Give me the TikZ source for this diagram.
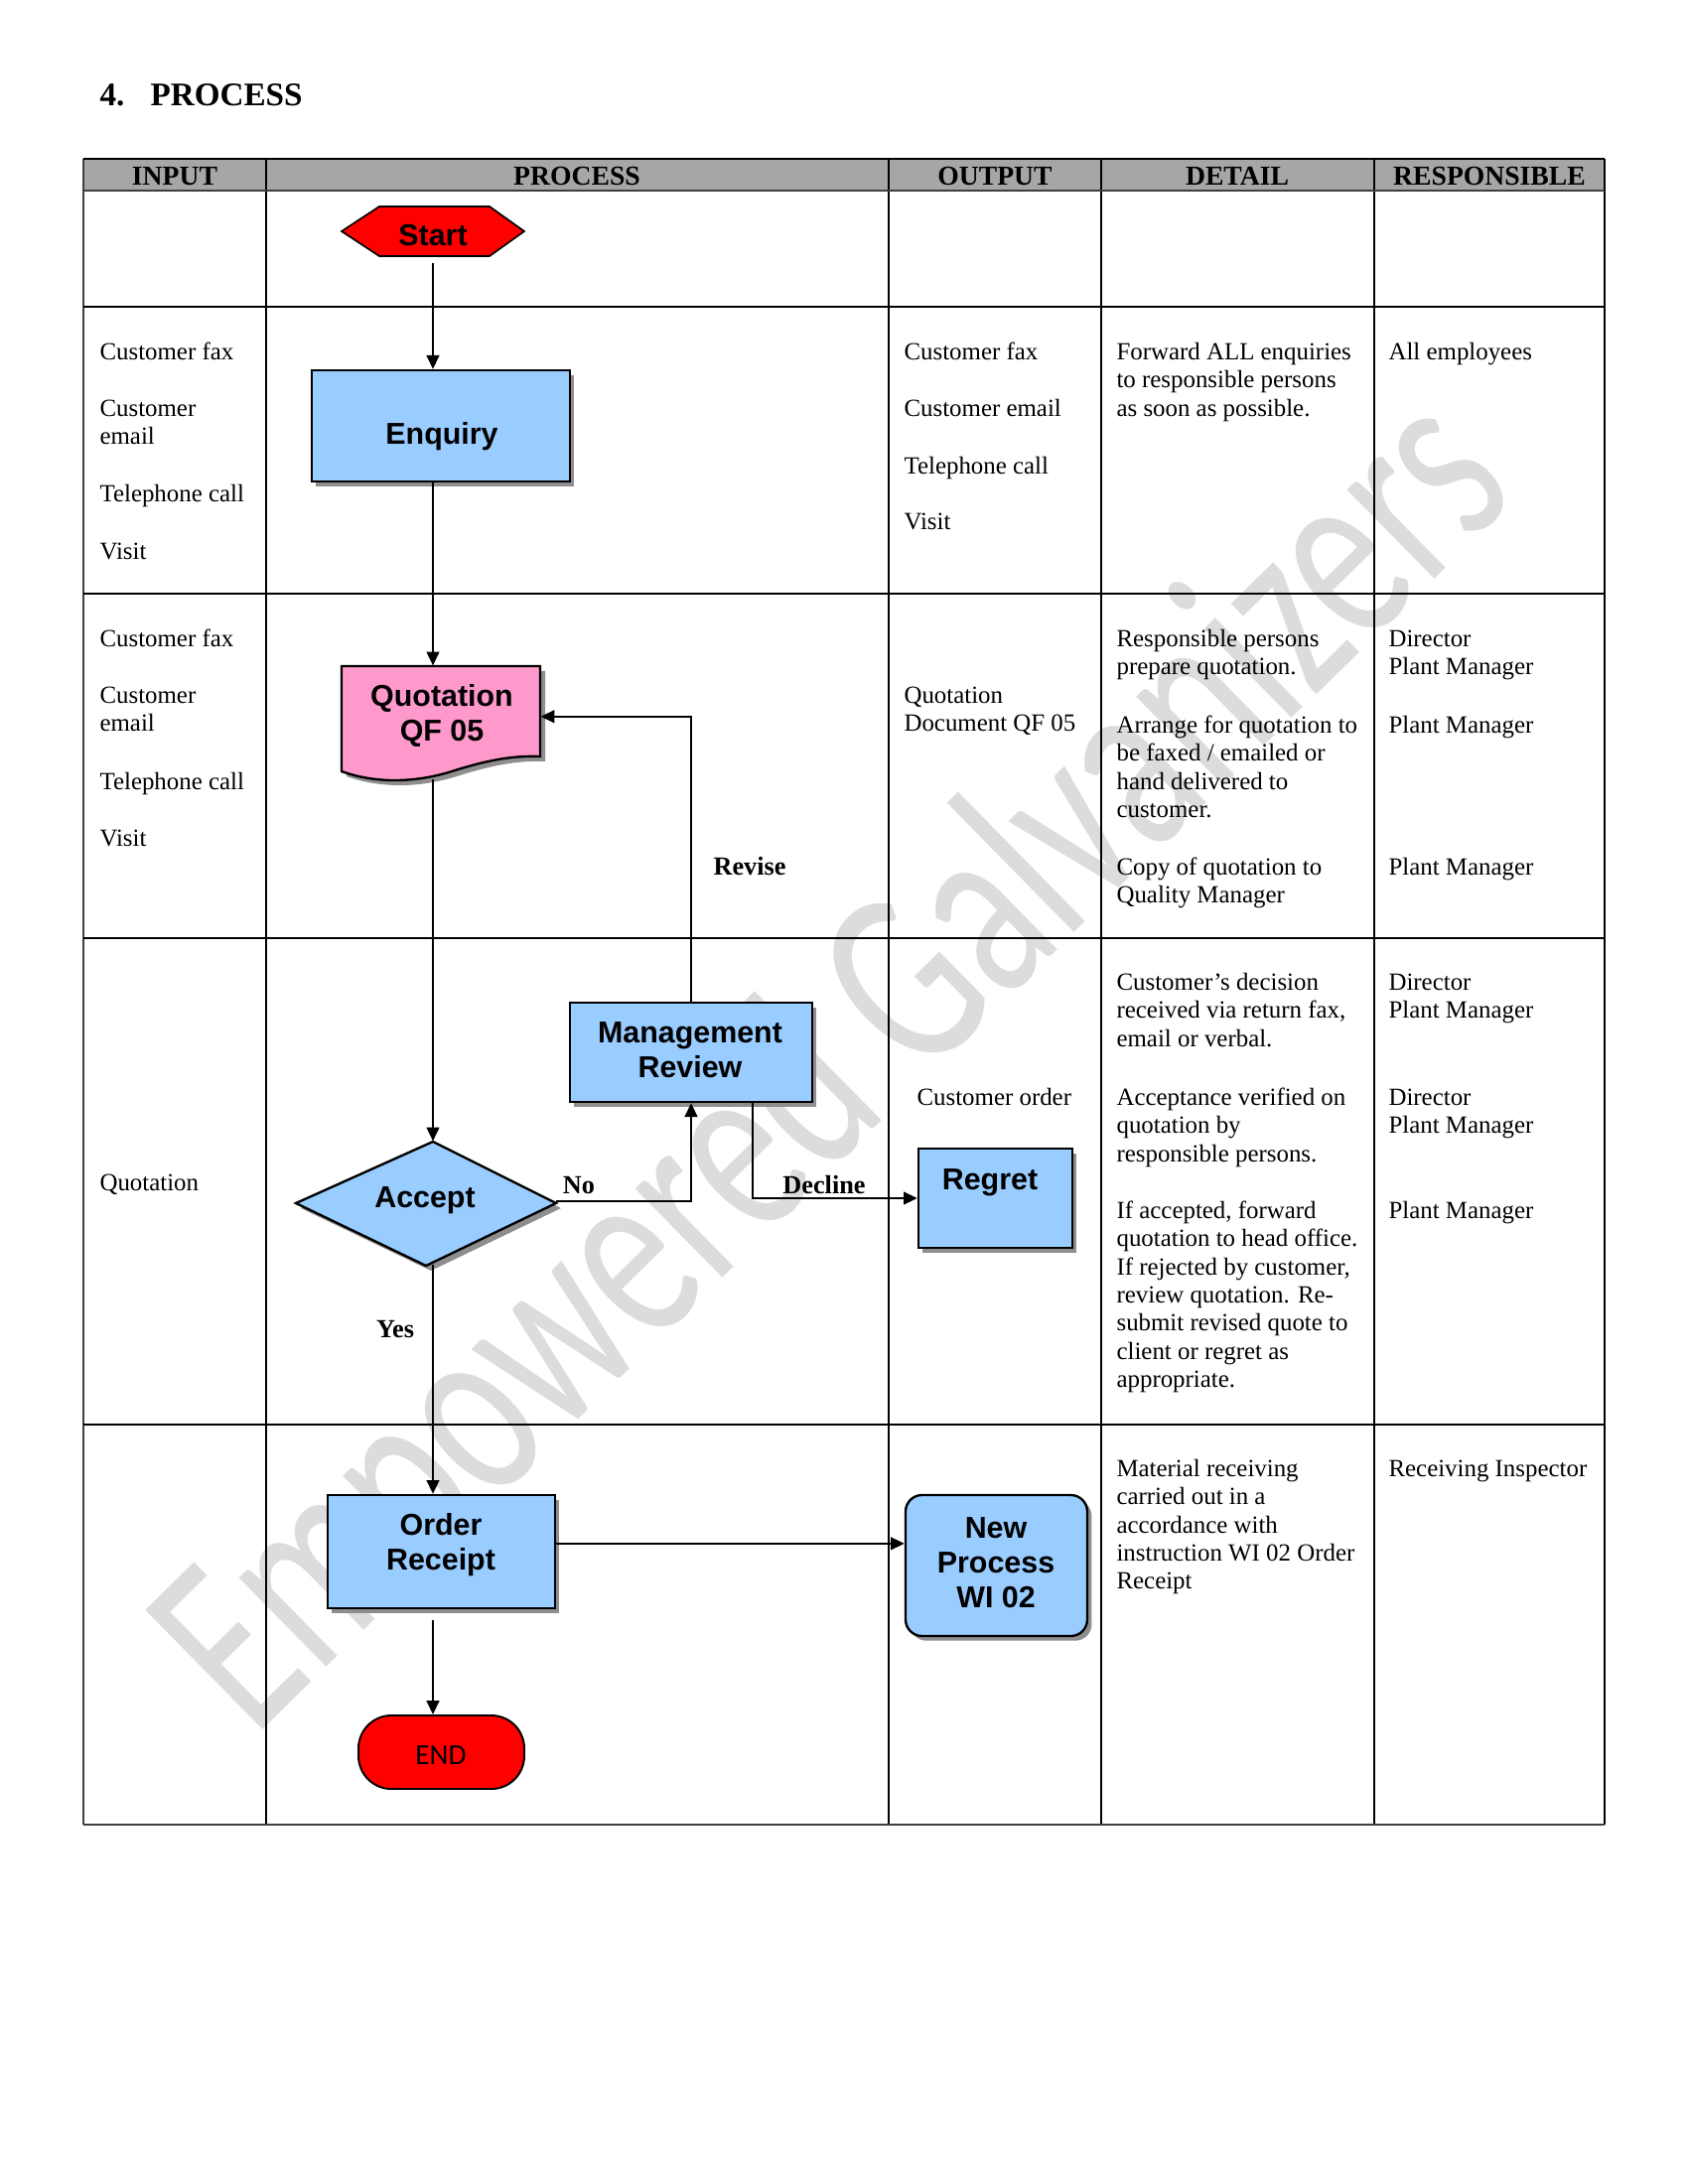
\documentclass[tikz,border=0pt]{standalone}
\usepackage{fontspec}
\setmainfont{Liberation Serif}
\newfontfamily\flowsans{Liberation Sans}
\newfontfamily\calib{Carlito}
\usetikzlibrary{arrows.meta,shapes.geometric,shadows,calc,fit}
\newlength\pxu
\setlength\pxu{0.36135pt}
\definecolor{boxblue}{HTML}{99CCFF}
\definecolor{docpink}{HTML}{FF99CC}
\definecolor{hdrgray}{HTML}{A6A6A6}
\definecolor{wmgray}{HTML}{DCDCDC}
\definecolor{shadowgray}{HTML}{8E8E8E}
\begin{document}
\begin{tikzpicture}[x=0.005in,y=-0.005in,
  cell/.style={anchor=north west,yshift=7.175pt,inner sep=0pt,align=left,font=\fontsize{9}{10.25}\selectfont},
  hdr/.style={anchor=base,inner sep=0pt,font=\fontsize{10}{12}\selectfont\bfseries},
  ttl/.style={anchor=base west,inner sep=0pt,font=\fontsize{12}{14}\selectfont\bfseries},
  flowtext/.style={anchor=north,yshift=8.82pt,inner sep=0pt,align=center,font=\flowsans\fontsize{11}{12.6}\selectfont\bfseries},
  endtext/.style={anchor=base,inner sep=0pt,font=\calib\fontsize{10.6}{12}\selectfont},
  lbl/.style={anchor=base,inner sep=0pt,font=\fontsize{9.5}{11}\selectfont\bfseries},
  wm/.style={rotate=44.5,anchor=base west,inner sep=0pt,text=wmgray,font=\calib\fontsize{95}{95}\selectfont},
  anchorbox/.style={inner sep=0pt,draw=none},
  procbox/.style={draw=black,line width=0.85pt,fill=boxblue,inner sep=0pt,
     drop shadow={shadow xshift=1.6pt,shadow yshift=-1.7pt,opacity=1,fill=shadowgray}},
  shapeline/.style={draw=black,line width=0.85pt},
  termbox/.style={draw=black,line width=0.7pt,fill=red,inner sep=0pt},
  arr/.style={line width=0.75pt,-{Triangle[length=5pt,width=4.6pt]}},
  tline/.style={line width=0.45pt},
  rline/.style={line width=0.7pt},
]
\useasboundingbox (0,0) rectangle (1700,2200);
\fill[white] (0,0) rectangle (1700,2200);

% watermark
\node[wm] (wmark) at (255,1752) {\scalebox{0.70}[1]{Empowered Galvanizers}};

% title
\node[ttl] (tnum) at (100,107) {4.};
\node[ttl] (ttext) at (151,107) {PROCESS};

% table
\fill[hdrgray] (84,160) rectangle (1616,192);
\foreach \x in {268,895,1109,1384} \draw[tline] (\x,160) -- (\x,1838);
\draw[line width=0.8pt,black!75] (84,160) -- (84,1838);
\draw[tline] (1616,160) -- (1616,1838);
\draw[line width=0.9pt] (84,160) -- (1616,160);
\draw[line width=0.9pt,black!75] (84,192) -- (1616,192);
\foreach \y in {309,598,945,1435} \draw[rline] (84,\y) -- (1616,\y);
\draw[line width=0.9pt,black!75] (84,1838) -- (1616,1838);

% headers
\node[hdr] (h1) at (176,187) {INPUT};
\node[hdr] (h2) at (581,187) {PROCESS};
\node[hdr] (h3) at (1002,187) {OUTPUT};
\node[hdr] (h4) at (1246,187) {DETAIL};
\node[hdr] (h5) at (1500,187) {RESPONSIBLE};

% input column
\node[cell] (i1) at (100,362) {\strut Customer fax};
\node[cell] (i2) at (100,419) {\strut Customer\\email};
\node[cell] (i3) at (100,505) {\strut Telephone call};
\node[cell] (i4) at (100,563) {\strut Visit};
\node[cell] (i5) at (100,651) {\strut Customer fax};
\node[cell] (i6) at (100,708) {\strut Customer\\email};
\node[cell] (i7) at (100,795) {\strut Telephone call};
\node[cell] (i8) at (100,852) {\strut Visit};
\node[cell] (i9) at (100,1199) {\strut Quotation};

% output column
\node[cell] (o1) at (910,362) {\strut Customer fax};
\node[cell] (o2) at (910,419) {\strut Customer email};
\node[cell] (o3) at (910,477) {\strut Telephone call};
\node[cell] (o4) at (910,533) {\strut Visit};
\node[cell] (o5) at (910,708) {\strut Quotation\\Document QF 05};
\node[cell] (o6) at (923,1113) {\strut Customer order};

% detail column
\node[cell] (d1) at (1124,362) {\strut Forward ALL enquiries\\to responsible persons\\as soon as possible.};
\node[cell] (d2) at (1124,651) {\strut Responsible persons\\prepare quotation.};
\node[cell] (d3) at (1124,738) {\strut Arrange for quotation to\\be faxed / emailed or\\hand delivered to\\customer.};
\node[cell] (d4) at (1124,881) {\strut Copy of quotation to\\Quality Manager};
\node[cell] (d5) at (1124,997) {\strut Customer’s decision\\received via return fax,\\email or verbal.};
\node[cell] (d6) at (1124,1113) {\strut Acceptance verified on\\quotation by\\responsible persons.};
\node[cell] (d7) at (1124,1227) {\strut If accepted, forward\\quotation to head office.\\If rejected by customer,\\review quotation. Re-\\submit revised quote to\\client or regret as\\appropriate.};
\node[cell] (d8) at (1124,1487) {\strut Material receiving\\carried out in a\\accordance with\\instruction WI 02 Order\\Receipt};

% responsible column
\node[cell] (r1) at (1398,362) {\strut All employees};
\node[cell] (r2) at (1398,651) {\strut Director\\Plant Manager};
\node[cell] (r3) at (1398,738) {\strut Plant Manager};
\node[cell] (r4) at (1398,881) {\strut Plant Manager};
\node[cell] (r5) at (1398,997) {\strut Director\\Plant Manager};
\node[cell] (r6) at (1398,1113) {\strut Director\\Plant Manager};
\node[cell] (r7) at (1398,1227) {\strut Plant Manager};
\node[cell] (r8) at (1398,1487) {\strut Receiving Inspector};

% start hexagon
\filldraw[fill=red,draw=black,line width=0.6pt] (344,233) -- (382,208) -- (493,208) -- (528,233) -- (493,258) -- (382,258) -- cycle;
\node[anchorbox,fit={(344,208) (528,258)}] (start) {};

% enquiry
\node[procbox,fit={(314,373) (574,485)}] (enq) {};

% quotation document
\fill[shadowgray] (349,676) -- (549,676) -- (549,767) .. controls (520,766) and (495,771) .. (460,782) .. controls (425,793) and (385,795) .. (349,782) -- cycle;
\filldraw[shapeline,fill=docpink] (344,671) -- (544,671) -- (544,762) .. controls (515,761) and (490,766) .. (455,777) .. controls (420,788) and (380,790) .. (344,777) -- cycle;
\node[anchorbox,fit={(344,671) (544,784)}] (quot) {};

% management review
\node[procbox,fit={(574,1010) (818,1110)}] (mr) {};

% accept decision (slightly skewed diamond as in the reference)
\fill[shadowgray] (303,1217) -- (441,1155) -- (565,1217) -- (434,1280) -- cycle;
\filldraw[shapeline,fill=boxblue] (298,1212) -- (436,1150) -- (560,1212) -- (429,1275) -- cycle;
\node[anchorbox,fit={(298,1150) (560,1275)}] (acc) {};

% regret
\node[procbox,fit={(925,1157) (1080,1257)}] (regret) {};
% order receipt
\node[procbox,fit={(330,1506) (559,1620)}] (order) {};
% new process
\node[procbox,rounded corners=6pt,fit={(912,1506) (1095,1648)}] (newp) {};
% end
\node[termbox,rounded corners=12pt,fit={(361,1728) (528,1802)}] (endn) {};

% flow texts
\node[flowtext] (startt) at (436,247) {\strut Start};
\node[flowtext] (enqt) at (445,447) {\strut Enquiry};
\node[flowtext] (quott) at (445,711) {\strut Quotation\\QF 05};
\node[flowtext] (mrt) at (695,1050) {\strut Management\\Review};
\node[flowtext] (acct) at (428,1216) {\strut Accept};
\node[flowtext] (regrett) at (997,1198) {\strut Regret};
\node[flowtext] (ordert) at (444,1546) {\strut Order\\Receipt};
\node[flowtext] (newpt) at (1003,1549) {\strut New\\Process\\WI 02};
\node[endtext] (endt) at (444,1777) {END};

% labels
\node[lbl] (lrev) at (755,881) {Revise};
\node[lbl] (lno) at (583,1202) {No};
\node[lbl] (ldec) at (830,1202) {Decline};
\node[lbl] (lyes) at (398,1347) {Yes};

% connectors
\coordinate (accright) at (560,1210);
\draw[arr] ($(start.south)+(0,6)$) -- (start.south |- enq.north);
\draw[arr] (start.south |- enq.south) -- (start.south |- quot.north);
\draw[arr] (start.south |- quot.south) -- (start.south |- acc.north);
\draw[arr] (accright) -| (mr.south);
\coordinate (qin) at ($(quot.north east)!0.45!(quot.south east)$);
\draw[arr] (mr.north) |- (qin);
\coordinate (mrd) at ($(mr.south)!0.5!(mr.south east)$);
\draw[arr] (mrd) |- (regret.west);
\draw[arr] ($(start.south |- acc.south)+(0,-2)$) -- (start.south |- order.north);
\coordinate (orx) at ($(order.north east)!0.43!(order.south east)$);
\draw[arr] (orx) -- (orx -| newp.west);
\draw[arr] ($(start.south |- order.south)+(0,11)$) -- (start.south |- endn.north);
\end{tikzpicture}
\end{document}
